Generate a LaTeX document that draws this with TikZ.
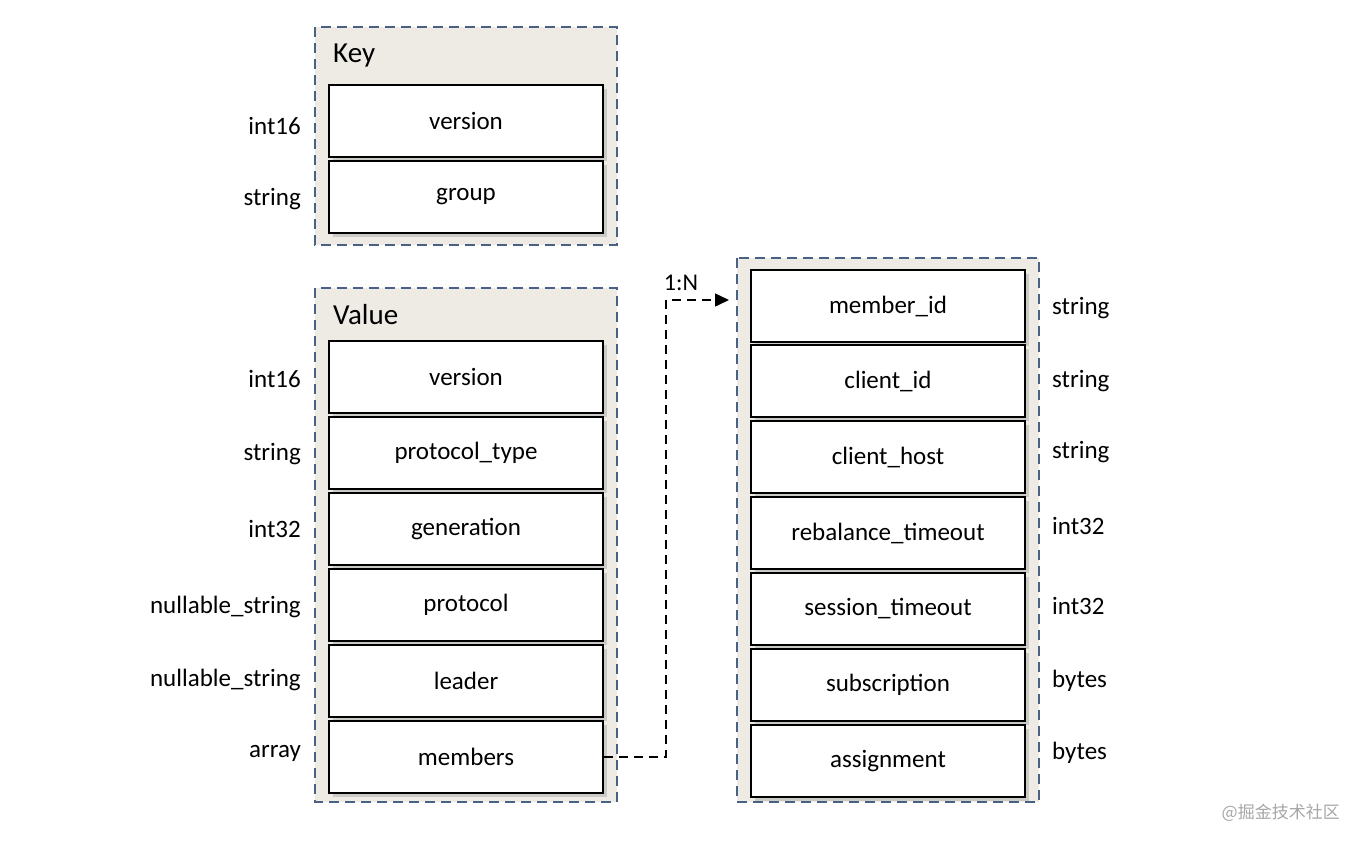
\documentclass[tikz,border=0pt]{standalone}
\usepackage{fontspec}
\setmainfont{Carlito}
\newfontfamily\cjk{Noto Sans CJK SC}
\usetikzlibrary{shadows,arrows.meta}
\definecolor{frameblue}{HTML}{4A6084}
\definecolor{framefill}{HTML}{EEEBE5}
\tikzset{
  container/.style={draw=frameblue, fill=framefill, line width=1.6pt, dash pattern=on 10pt off 6pt},
  rowbox/.style={draw=black, fill=white, line width=1.7pt, minimum width=274pt, minimum height=72pt, inner sep=0pt,
    font=\fontsize{25}{27}\selectfont, drop shadow={opacity=0.3, shadow xshift=4pt, shadow yshift=-4pt}},
  typel/.style={anchor=east, font=\fontsize{25}{27}\selectfont, inner sep=0pt},
  typer/.style={anchor=west, font=\fontsize{25}{27}\selectfont, inner sep=0pt},
  title/.style={anchor=west, font=\fontsize{29}{31}\selectfont, inner sep=0pt},
  link/.style={line width=1.5pt, dash pattern=on 9pt off 6pt},
}
\begin{document}
\begin{tikzpicture}[x=1pt,y=-1pt]
\useasboundingbox (0,0) rectangle (1362,846);
% Key container
\path[container] (315,27) rectangle (617,245);
\node[title] (keyt) at (333,56) {Key};
\node[rowbox] (kversion) at (466,121) {version};
\node[rowbox] (kgroup) at (466,197) {group};
\node[typel] (t1) at (301,126) {int16};
\node[typel] (t2) at (301,199) {string};
% Value container
\path[container] (315,288) rectangle (617,802);
\node[title] (valt) at (333,315) {Value};
\node[rowbox] (vversion) at (466,377) {version};
\node[rowbox] (vptype) at (466,453) {protocol\_type};
\node[rowbox] (vgen) at (466,529) {generation};
\node[rowbox] (vproto) at (466,605) {protocol};
\node[rowbox] (vleader) at (466,681) {leader};
\node[rowbox] (members) at (466,757) {members};
\node[typel] (t3) at (301,379) {int16};
\node[typel] (t4) at (301,454) {string};
\node[typel] (t5) at (301,529) {int32};
\node[typel] (t6) at (301,607) {nullable\_string};
\node[typel] (t7) at (301,680) {nullable\_string};
\node[typel] (t8) at (301,753) {array};
% Member container
\path[container] (737,258) rectangle (1039,802);
\node[rowbox] (memberid) at (888,306) {member\_id};
\node[rowbox] (clientid) at (888,381) {client\_id};
\node[rowbox] (clienthost) at (888,457) {client\_host};
\node[rowbox] (rebal) at (888,533) {rebalance\_timeout};
\node[rowbox] (sess) at (888,609) {session\_timeout};
\node[rowbox] (subs) at (888,685) {subscription};
\node[rowbox] (assign) at (888,761) {assignment};
\node[typer] (r1) at (1052,308) {string};
\node[typer] (r2) at (1052,381) {string};
\node[typer] (r3) at (1052,452) {string};
\node[typer] (r4) at (1052,526) {int32};
\node[typer] (r5) at (1052,606) {int32};
\node[typer] (r6) at (1052,681) {bytes};
\node[typer] (r7) at (1052,753) {bytes};
% connector
\coordinate (bend) at (666,757);
\coordinate (arrend) at (729,300);
\draw[link,-{Triangle[length=14pt,width=13pt]}] (members.east) -- (bend) |- (arrend);
\node[font=\fontsize{24}{26}\selectfont, inner sep=0pt] (ratio) at (681,283) {1:N};
% watermark
\node[font=\cjk\fontsize{17}{19}\selectfont, text=black!35, anchor=east, inner sep=0pt] (wm) at (1340,813) {@掘金技术社区};
\end{tikzpicture}
\end{document}
